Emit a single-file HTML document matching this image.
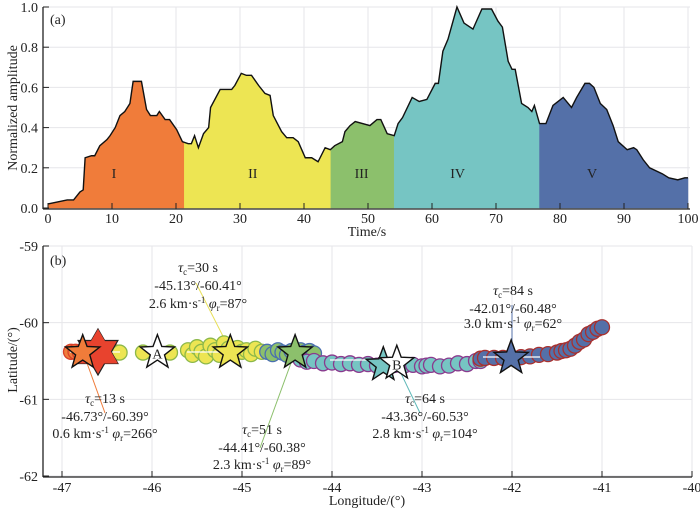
<!DOCTYPE html>
<html><head><meta charset="utf-8">
<style>
body{margin:0;background:#fff;}
svg{display:block;font-family:"Liberation Serif",serif;}
</style></head>
<body>
<svg id="chart" width="700" height="508" viewBox="0 0 700 508" xmlns="http://www.w3.org/2000/svg">
<g id="pa"></g>
<g id="pb"></g>
</svg>
<script>
// ---- Panel (a) data ----
const times = [0,3,4,5,5.5,5.8,6.8,7.3,8.1,9.2,9.7,10.5,11.25,12,12.8,13.3,14.6,15.4,16,17,17.4,18.3,19,20.1,21,21.9,22.4,22.9,23.5,24.3,25.1,25.4,26.9,28,28.7,29.2,30.2,31,31.8,32.9,33.9,34.7,35.2,36.5,37.3,38.3,39.1,40.2,41.2,42.2,43.3,44.1,44.8,46,46.4,47.2,48,50.3,51.4,52,53,54.1,54.7,55.4,56.9,58,59.2,60.5,61,61.7,62.5,63.9,65,66.4,67.8,69.3,70.3,71,71.9,72.5,73,74,75,75.6,76,76.8,77.8,78.9,80.5,81.8,82.6,83.9,84.6,85.3,86.3,87.3,88.3,89.1,90.5,91.5,92,93,94,96,97,98.4,99.5,100];
const amps = [0.02,0.04,0.04,0.08,0.09,0.25,0.26,0.26,0.31,0.34,0.36,0.40,0.46,0.48,0.52,0.63,0.63,0.49,0.46,0.46,0.48,0.44,0.44,0.39,0.33,0.32,0.32,0.36,0.30,0.37,0.40,0.50,0.59,0.59,0.59,0.61,0.67,0.66,0.66,0.61,0.57,0.56,0.46,0.38,0.35,0.35,0.33,0.25,0.25,0.23,0.30,0.29,0.31,0.33,0.38,0.41,0.43,0.41,0.44,0.44,0.37,0.36,0.42,0.45,0.55,0.53,0.54,0.62,0.62,0.78,0.84,1.0,0.92,0.89,0.99,0.99,0.93,0.90,0.73,0.69,0.69,0.52,0.50,0.48,0.51,0.42,0.42,0.51,0.55,0.50,0.55,0.62,0.62,0.60,0.52,0.49,0.41,0.33,0.29,0.30,0.29,0.24,0.20,0.17,0.15,0.14,0.15,0.15];
const segBounds = [0,21.3,44.2,54.1,76.8,100];
const segLabels = ["I","II","III","IV","V"];
const segLabelT = [10.3,32,49,64,85];
const xTicksA = [0,10,20,30,40,50,60,70,80,90,100];
const yTicksA = [0,0.2,0.4,0.6,0.8,1.0];
const yTickLabA = ["0.0","0.2","0.4","0.6","0.8","1.0"];

// ---- Panel (b) data ----
const groupColors = ["orange","yellow","green","cyan","blue"];
const orangeLon = [-46.9,-46.85,-46.8,-46.75,-46.7,-46.65,-46.6,-46.55,-46.5,-46.45,-46.4];
const orangeLat = [-60.38,-60.38,-60.39,-60.38,-60.38,-60.37,-60.38,-60.39,-60.38,-60.38,-60.39];
const yellowLon = [-46.36,-46.1,-45.8,-45.6,-45.55,-45.5,-45.45,-45.4,-45.35,-45.3,-45.25,-45.2,-45.15,-45.1,-45.05,-45.0,-44.95,-44.9,-44.85,-44.78];
const yellowLat = [-60.39,-60.39,-60.39,-60.36,-60.42,-60.32,-60.38,-60.44,-60.3,-60.36,-60.42,-60.27,-60.34,-60.4,-60.33,-60.38,-60.36,-60.41,-60.34,-60.38];
const greenLon = [-44.72,-44.66,-44.6,-44.55,-44.5,-44.45,-44.4,-44.35,-44.3,-44.25,-44.2];
const greenLat = [-60.38,-60.41,-60.36,-60.39,-60.42,-60.37,-60.4,-60.36,-60.39,-60.37,-60.4];
const cyanLon = [-44.35,-44.28,-44.2,-44.1,-44.0,-43.9,-43.8,-43.7,-43.6,-43.5,-43.4,-43.3,-43.2,-43.1,-43.0,-42.95,-42.9,-42.8,-42.7,-42.6,-42.5,-42.4,-42.35];
const cyanLat = [-60.48,-60.51,-60.5,-60.53,-60.52,-60.54,-60.53,-60.55,-60.54,-60.56,-60.55,-60.55,-60.56,-60.55,-60.57,-60.56,-60.55,-60.57,-60.56,-60.53,-60.54,-60.5,-60.5];
const blueLon = [-42.35,-42.3,-42.2,-42.1,-42.0,-41.9,-41.8,-41.7,-41.6,-41.5,-41.45,-41.4,-41.35,-41.3,-41.25,-41.2,-41.15,-41.1,-41.05,-41.0];
const blueLat = [-60.47,-60.46,-60.46,-60.46,-60.46,-60.45,-60.44,-60.42,-60.41,-60.39,-60.37,-60.36,-60.34,-60.3,-60.25,-60.22,-60.15,-60.12,-60.08,-60.06];
const xTicksB = [-47,-46,-45,-44,-43,-42,-41,-40];
const yTicksB = [-59,-60,-61,-62];
const starLon = [-46.77,-45.94,-45.13,-44.41,-43.43,-43.28,-42.01];
const starLat = [-60.39,-60.39,-60.39,-60.39,-60.55,-60.53,-60.46];
const starFill = ["#f07c3a","#ffffff","#ede553","#8cc06c","#76c5c3","#ffffff","#5470a8"];
const starLabel = ["","A","","","","B",""];

const NS="http://www.w3.org/2000/svg";
function mk(tag,attrs,parent){const e=document.createElementNS(NS,tag);for(const k in attrs)e.setAttribute(k,attrs[k]);parent.appendChild(e);return e;}

// axes functions
const xA = t => 48 + t*6.4;
const yA = a => 208 - a*201;
const xB = lon => 62 + (lon+47)*90;
const yB = lat => 246 + (-59-lat)*76.67;

const pa=document.getElementById('pa');
const pb=document.getElementById('pb');
const segCols=["#f07c3a","#ede553","#8cc06c","#76c5c3","#5470a8"];
const grid="#e6e6ea";

// --- Panel a grid
xTicksA.forEach(t=>{ if(t>0){const l=mk('line',{x1:xA(t),x2:xA(t),y1:7,y2:208,stroke:grid,'stroke-width':1},pa);

}});
yTicksA.forEach(a=>{ if(a>0){const l=mk('line',{x1:43,x2:690,y1:yA(a),y2:yA(a),stroke:grid,'stroke-width':1},pa);

}});

function ampAt(t){for(let i=1;i<times.length;i++){if(t<=times[i]){const f=(t-times[i-1])/(times[i]-times[i-1]);return amps[i-1]+f*(amps[i]-amps[i-1]);}}return amps[amps.length-1];}
for(let s=0;s<5;s++){
  const t0=segBounds[s],t1=segBounds[s+1];
  let pts=[[xA(t0),yA(0)],[xA(t0),yA(ampAt(t0))]];
  times.forEach((t,i)=>{if(t>t0&&t<t1)pts.push([xA(t),yA(amps[i])]);});
  pts.push([xA(t1),yA(ampAt(t1))]);pts.push([xA(t1),yA(0)]);
  const p=mk('polygon',{points:pts.map(p=>p.join(',')).join(' '),fill:segCols[s],stroke:segCols[s],'stroke-width':0.5},pa);
  
  
  const tx=mk('text',{x:xA(segLabelT[s]),y:178,'font-size':14,'text-anchor':'middle',fill:'#222'},pa);
  tx.textContent=segLabels[s];
  
  
}
const line=mk('polyline',{points:times.map((t,i)=>xA(t)+','+yA(amps[i])).join(' '),fill:'none',stroke:'#111','stroke-width':1.4},pa);



// axes a
mk('line',{x1:43,x2:43,y1:7,y2:209,stroke:'#222','stroke-width':1.3},pa);
mk('line',{x1:43,x2:690,y1:209,y2:209,stroke:'#222','stroke-width':1.3},pa);
yTicksA.forEach((a,i)=>{
  mk('line',{x1:43,x2:49,y1:yA(a),y2:yA(a),stroke:'#222'},pa);
  const t=mk('text',{x:38,y:yA(a)+5,'font-size':14,'text-anchor':'end',fill:'#222'},pa);t.textContent=yTickLabA[i];
  
  
});
xTicksA.forEach(v=>{
  mk('line',{x1:xA(v),x2:xA(v),y1:209,y2:203,stroke:'#222'},pa);
  const t=mk('text',{x:xA(v),y:223,'font-size':14,'text-anchor':'middle',fill:'#222'},pa);t.textContent=v;
  
  
});
</script>
<script>
// static labels
(function(){
const pa=document.getElementById('pa');
const pb=document.getElementById('pb');
function mk(tag,attrs,parent){const e=document.createElementNS("http://www.w3.org/2000/svg",tag);for(const k in attrs)e.setAttribute(k,attrs[k]);parent.appendChild(e);return e;}
let t=mk('text',{x:50,y:24,'font-size':14,fill:'#222'},pa);t.textContent="(a)";


t=mk('text',{x:0,y:0,'font-size':14,'text-anchor':'middle',fill:'#222',transform:'translate(17,108) rotate(-90)'},pa);t.textContent="Normalized amplitude";


t=mk('text',{x:367,y:236,'font-size':14,'text-anchor':'middle',fill:'#222'},pa);t.textContent="Time/s";


})();
</script>
<script>
// ---- Panel b drawing
(function(){
const pb=document.getElementById('pb');
function mk(tag,attrs,parent){const e=document.createElementNS("http://www.w3.org/2000/svg",tag);for(const k in attrs)e.setAttribute(k,attrs[k]);parent.appendChild(e);return e;}
const grid="#e6e6ea";
xTicksB.forEach(v=>{const l=mk('line',{x1:xB(v),x2:xB(v),y1:246,y2:476,stroke:grid},pb);

});
yTicksB.forEach(v=>{const l=mk('line',{x1:43,x2:692,y1:yB(v),y2:yB(v),stroke:grid},pb);

});

// leader lines
const leaders=[[83,352,105,413,'#f07c3a'],[230,350,196,283,'#e8e05a'],[295,352,260,448,'#8cc06c'],[397,365,420,413,'#5fb8b8'],[512,358,512,305,'#5470a8']];
leaders.forEach(l=>{const e=mk('line',{x1:l[0],y1:l[1],x2:l[2],y2:l[3],stroke:l[4],'stroke-width':1},pb);

});

const groups=[[orangeLon,orangeLat,'#f07c3a','#d8402a'],[yellowLon,yellowLat,'#ede553','#8cb84a'],[greenLon,greenLat,'#8cc06c','#4a6fb0'],[cyanLon,cyanLat,'#76c5c3','#8a3a8e'],[blueLon,blueLat,'#5470a8','#a8302e']];
groups.forEach((g,gi)=>{
  g[0].forEach((lon,i)=>{
    const c=mk('circle',{cx:xB(lon),cy:yB(g[1][i]),r:7.5,fill:g[2],stroke:g[3],'stroke-width':1.3},pb);
    
    
  });
});
// white trace lines
[[70,120,352],[187,240,352],[330,380,360],[483,540,357]].forEach(s=>{mk('line',{x1:s[0],x2:s[1],y1:s[2],y2:s[2],stroke:'#fff','stroke-width':1.2},pb);});

// hexagram (epicenter)
(function(){const cx=98,cy=352,r=23;
 function tri(off){let p=[];for(let k=0;k<3;k++){const a=(off+k*120)*Math.PI/180;p.push((cx+r*Math.sin(a)).toFixed(1)+','+(cy-r*Math.cos(a)).toFixed(1));}return p.join(' ');}
 const g=mk('g',{},pb);
 
 
 mk('polygon',{points:tri(0),fill:'#e8432e',stroke:'#222','stroke-width':1.2},g);
 mk('polygon',{points:tri(60),fill:'#e8432e',stroke:'#222','stroke-width':1.2},g);
 mk('polygon',{points:tri(0),fill:'#e8432e',stroke:'none'},g);
})();

function star(cx,cy,R,r){let p=[];for(let k=0;k<10;k++){const rad=k%2?r:R;const a=k*36*Math.PI/180;p.push((cx+rad*Math.sin(a)).toFixed(1)+','+(cy-rad*Math.cos(a)).toFixed(1));}return p.join(' ');}
starLon.forEach((lon,i)=>{
  const s=mk('polygon',{points:star(xB(lon),yB(starLat[i]),18,7.5),fill:starFill[i],stroke:'#111','stroke-width':1.4},pb);
  
  
  if(starLabel[i]){const t=mk('text',{x:xB(lon),y:yB(starLat[i])+6,'font-size':14,'text-anchor':'middle',fill:'#222'},pb);t.textContent=starLabel[i];
  
  }
});

// axes
mk('line',{x1:43,x2:43,y1:246,y2:477,stroke:'#222','stroke-width':1.3},pb);
mk('line',{x1:43,x2:692,y1:477,y2:477,stroke:'#222','stroke-width':1.3},pb);
yTicksB.forEach(v=>{mk('line',{x1:43,x2:49,y1:yB(v),y2:yB(v),stroke:'#222'},pb);
 const t=mk('text',{x:38,y:yB(v)+5,'font-size':14,'text-anchor':'end',fill:'#222'},pb);t.textContent=v;
 
 });
xTicksB.forEach(v=>{mk('line',{x1:xB(v),x2:xB(v),y1:477,y2:471,stroke:'#222'},pb);
 const t=mk('text',{x:xB(v),y:492,'font-size':14,'text-anchor':'middle',fill:'#222'},pb);t.textContent=v;
 
 });
})();
</script>
<svg width="0" height="0"></svg>
<script>
(function(){
const svg=document.getElementById('chart');
const html=`
<text x="50" y="265" font-size="14" fill="#222">(b)</text>
<text transform="translate(17,360) rotate(-90)" font-size="14" text-anchor="middle" fill="#222">Latitude/(°)</text>
<text x="367" y="505" font-size="14" text-anchor="middle" fill="#222">Longitude/(°)</text>
<g font-size="14" fill="#222" text-anchor="middle">
<text x="198" y="272"><tspan font-style="italic">τ</tspan><tspan font-size="9" dy="3">c</tspan><tspan dy="-3">=30 s</tspan></text>
<text x="198" y="290">-45.13°/-60.41°</text>
<text x="198" y="308">2.6 km·s<tspan font-size="9" dy="-5">-1</tspan><tspan dy="5"> </tspan><tspan font-style="italic">φ</tspan><tspan font-size="9" dy="3">r</tspan><tspan dy="-3">=87°</tspan></text>
</g>
<g font-size="14" fill="#222" text-anchor="middle">
<text x="105" y="403"><tspan font-style="italic">τ</tspan><tspan font-size="9" dy="3">c</tspan><tspan dy="-3">=13 s</tspan></text>
<text x="105" y="421">-46.73°/-60.39°</text>
<text x="105" y="438">0.6 km·s<tspan font-size="9" dy="-5">-1</tspan><tspan dy="5"> </tspan><tspan font-style="italic">φ</tspan><tspan font-size="9" dy="3">r</tspan><tspan dy="-3">=266°</tspan></text>
</g>
<g font-size="14" fill="#222" text-anchor="middle">
<text x="262" y="434"><tspan font-style="italic">τ</tspan><tspan font-size="9" dy="3">c</tspan><tspan dy="-3">=51 s</tspan></text>
<text x="262" y="452">-44.41°/-60.38°</text>
<text x="262" y="469">2.3 km·s<tspan font-size="9" dy="-5">-1</tspan><tspan dy="5"> </tspan><tspan font-style="italic">φ</tspan><tspan font-size="9" dy="3">r</tspan><tspan dy="-3">=89°</tspan></text>
</g>
<g font-size="14" fill="#222" text-anchor="middle">
<text x="425" y="403"><tspan font-style="italic">τ</tspan><tspan font-size="9" dy="3">c</tspan><tspan dy="-3">=64 s</tspan></text>
<text x="425" y="421">-43.36°/-60.53°</text>
<text x="425" y="438">2.8 km·s<tspan font-size="9" dy="-5">-1</tspan><tspan dy="5"> </tspan><tspan font-style="italic">φ</tspan><tspan font-size="9" dy="3">r</tspan><tspan dy="-3">=104°</tspan></text>
</g>
<g font-size="14" fill="#222" text-anchor="middle">
<text x="513" y="295"><tspan font-style="italic">τ</tspan><tspan font-size="9" dy="3">c</tspan><tspan dy="-3">=84 s</tspan></text>
<text x="513" y="313">-42.01°/-60.48°</text>
<text x="513" y="328">3.0 km·s<tspan font-size="9" dy="-5">-1</tspan><tspan dy="5"> </tspan><tspan font-style="italic">φ</tspan><tspan font-size="9" dy="3">r</tspan><tspan dy="-3">=62°</tspan></text>
</g>`;
const g=document.createElementNS("http://www.w3.org/2000/svg","g");
g.innerHTML=html;


svg.appendChild(g);
})();
</script>
</body></html>
